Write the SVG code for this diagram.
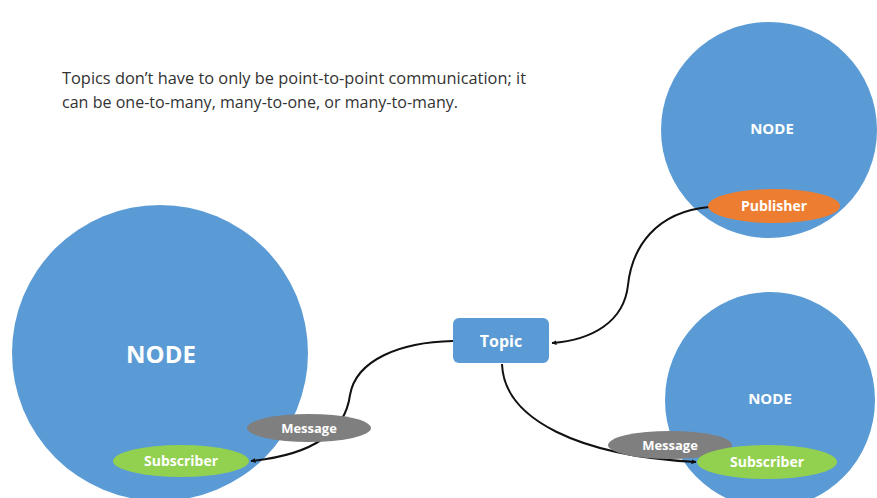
<svg xmlns="http://www.w3.org/2000/svg" width="877" height="498" viewBox="0 0 877 498">
<defs>
<marker id="arr" viewBox="0 0 10 10" refX="9" refY="5" markerWidth="5" markerHeight="5" orient="auto-start-reverse" markerUnits="userSpaceOnUse">
<path d="M0,0 L10,5 L0,10 Z" fill="#111"/>
</marker>
<style>
.node{fill:#5B9BD5}
.lbl{font-family:"Open Sans","Liberation Sans",sans-serif;font-weight:bold;fill:#fff;text-anchor:middle}
.conn{fill:none;stroke:#111;stroke-width:2}
.pub{fill:#ED7D31}
.sub{fill:#92D050}
.msg{fill:#7F7F7F}
.cap{font-family:"Open Sans","Liberation Sans",sans-serif;font-size:15.5px;fill:#333}
</style>
</defs>
<rect width="877" height="498" fill="#fff"/>
<text class="cap" x="62" y="84" textLength="464" lengthAdjust="spacingAndGlyphs">Topics don’t have to only be point-to-point communication; it</text>
<text class="cap" x="62" y="108" textLength="396" lengthAdjust="spacingAndGlyphs">can be one-to-many, many-to-one, or many-to-many.</text>

<g id="node-top-right">
<ellipse class="node" cx="769" cy="130" rx="108" ry="108"/>
<text class="lbl" x="772" y="134" font-size="15">NODE</text>
</g>
<g id="node-left">
<ellipse class="node" cx="160" cy="353" rx="148" ry="148"/>
<text class="lbl" x="161" y="363" font-size="24">NODE</text>
</g>
<g id="node-bottom-right">
<ellipse class="node" cx="770" cy="400" rx="105" ry="108"/>
<text class="lbl" x="770" y="404" font-size="15">NODE</text>
</g>

<g id="connectors">
<path class="conn" d="M709,207 C655,212 632,248 628,285 C624,322 592,340 552,343" marker-end="url(#arr)"/>
<path class="conn" d="M453,341 C400,342 356,360 350,395 C344,440 300,456 251,461" marker-end="url(#arr)"/>
<path class="conn" d="M502,364 C504,420 580,456 696,462" marker-end="url(#arr)"/>
</g>

<g id="topic">
<rect class="node" x="453" y="318" width="96" height="45" rx="6"/>
<text class="lbl" x="501" y="347" font-size="16">Topic</text>
</g>
<g id="publisher">
<ellipse class="pub" cx="774" cy="206" rx="66" ry="17"/>
<text class="lbl" x="774" y="211" font-size="14">Publisher</text>
</g>
<g id="message-left">
<ellipse class="msg" cx="309" cy="428" rx="62" ry="14"/>
<text class="lbl" x="309" y="433" font-size="13">Message</text>
</g>
<g id="subscriber-left">
<ellipse class="sub" cx="181" cy="461" rx="68" ry="16"/>
<text class="lbl" x="181" y="466" font-size="14">Subscriber</text>
</g>
<g id="message-right">
<ellipse class="msg" cx="670" cy="445" rx="62" ry="14"/>
<text class="lbl" x="670" y="450" font-size="13">Message</text>
</g>
<g id="subscriber-right">
<ellipse class="sub" cx="767" cy="462" rx="70" ry="17"/>
<text class="lbl" x="767" y="467" font-size="14">Subscriber</text>
</g>
</svg>
